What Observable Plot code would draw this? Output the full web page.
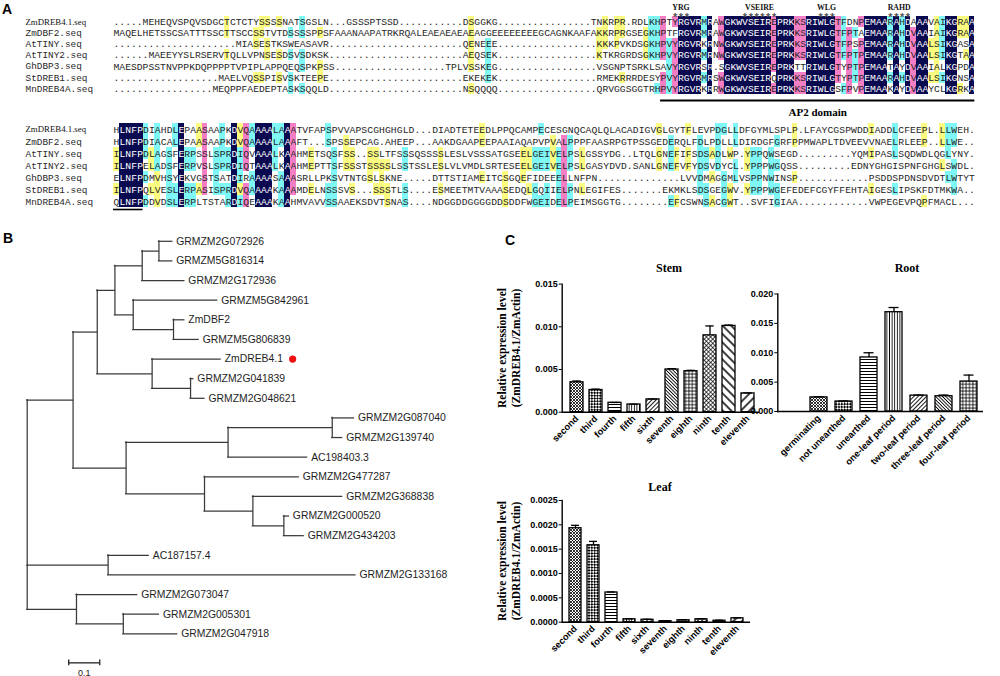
<!DOCTYPE html>
<html>
<head>
<meta charset="utf-8">
<script src="https://cdn.jsdelivr.net/npm/d3@7"></script>
<script src="https://cdn.jsdelivr.net/npm/@observablehq/plot@0.6"></script>
<style>
  html, body { margin: 0; padding: 0; background: #fff; }
  #fig { position: relative; width: 1000px; height: 676px; overflow: hidden; background: #fff; }
  .lbl { position: absolute; white-space: nowrap; color: #000; }
  .panel { font: bold 14px "Liberation Sans", Arial, sans-serif; }
  .title { font: bold 12px "Liberation Serif", "Times New Roman", serif; transform: translate(-50%, -50%); }
  .ylab { font: bold 11.5px "Liberation Serif", "Times New Roman", serif; line-height: 13.6px; text-align: center; transform: translate(-50%, -50%) rotate(-90deg); }
</style>
</head>
<body>
<svg width="0" height="0" style="position:absolute">
  <defs>
    <pattern id="pat0" patternUnits="userSpaceOnUse" width="3" height="3">
      <rect width="3" height="3" fill="#fff"/>
      <path d="M0,0L3,3M3,0L0,3" stroke="#000" stroke-width="0.8"/>
    </pattern>
    <pattern id="pat1" patternUnits="userSpaceOnUse" width="4" height="4" patternTransform="rotate(45)">
      <rect width="4" height="4" fill="#fff"/>
      <rect width="2" height="2" fill="#000"/>
      <rect x="2" y="2" width="2" height="2" fill="#000"/>
    </pattern>
    <pattern id="pat2" patternUnits="userSpaceOnUse" width="4" height="3">
      <rect width="4" height="3" fill="#fff"/>
      <path d="M0,1.5H4" stroke="#000" stroke-width="1"/>
    </pattern>
    <pattern id="pat3" patternUnits="userSpaceOnUse" width="2.6" height="4">
      <rect width="2.6" height="4" fill="#fff"/>
      <path d="M1.3,0V4" stroke="#000" stroke-width="0.9"/>
    </pattern>
    <pattern id="pat4" patternUnits="userSpaceOnUse" width="3" height="4" patternTransform="rotate(45)">
      <rect width="3" height="4" fill="#fff"/>
      <path d="M1.5,0V4" stroke="#000" stroke-width="0.9"/>
    </pattern>
    <pattern id="pat5" patternUnits="userSpaceOnUse" width="2.4" height="4" patternTransform="rotate(-45)">
      <rect width="2.4" height="4" fill="#fff"/>
      <path d="M1.2,0V4" stroke="#000" stroke-width="0.9"/>
    </pattern>
    <pattern id="pat6" patternUnits="userSpaceOnUse" width="3.4" height="3.4">
      <rect width="3.4" height="3.4" fill="#fff"/>
      <path d="M1.7,0V3.4M0,1.7H3.4" stroke="#000" stroke-width="0.8"/>
    </pattern>
    <pattern id="pat7" patternUnits="userSpaceOnUse" width="3" height="3" patternTransform="rotate(45)">
      <rect width="3" height="3" fill="#fff"/>
      <path d="M1.5,0V3M0,1.5H3" stroke="#000" stroke-width="0.7"/>
    </pattern>
    <pattern id="pat8" patternUnits="userSpaceOnUse" width="6" height="6" patternTransform="rotate(-45)">
      <rect width="6" height="6" fill="#fff"/>
      <path d="M3,0V6" stroke="#000" stroke-width="1.5"/>
    </pattern>
    <pattern id="pat9" patternUnits="userSpaceOnUse" width="6" height="6" patternTransform="rotate(45)">
      <rect width="6" height="6" fill="#fff"/>
      <path d="M3,0V6" stroke="#000" stroke-width="1.5"/>
    </pattern>
  </defs>
</svg>
<div id="fig"></div>
<script>
// ---------------- DATA ----------------
const seqNames = ["ZmDREB4.1.seq", "ZmDBF2.seq", "AtTINY.seq", "AtTINY2.seq", "GhDBP3.seq", "StDREB1.seq", "MnDREB4A.seq"];

// Alignment block 1 (three column segments)
const blk1A = [
  "....." + "MEHEQVSPQVSDGCTCTCTYSSSSNATSGSLN.",
  "MAQELHETSSCSATTTSSCTTSCCSSTVTDSSSSPPSF",
  ".........." + ".........." + "." + "MIASESTKSWEASAVR.",
  "......" + "MAEEYYSLRSERVTQLLVPNSESDSVSDKSK.",
  "MAESDPSSTNVPPKDQPPPPTVPIPLAPPQEQSPKPSS",
  ".........." + "........" + "MAELVQSSPISVSKTEEPE.",
  ".........." + "......." + "MEQPPFAEDEPTASKSQQLD."
];
const blk1B = [
  ".." + "GSSSPTSSD" + ".........." + "." + "DSGGKG" + ".........." + "......" + "TNKRPR.RDLKH",
  "AAANAAPATRKRQALEAEAEAEAEAGGEEEEEEEEGCAGNKAAFAKKRPRGSEGKH",
  ".........." + ".........." + ".." + "QENEEE" + ".........." + "......." + "KKKPVKDSGKH",
  ".........." + ".........." + ".." + "AEQSEK" + ".........." + "......." + "KTKRGRDSGKH",
  ".........." + "........." + "TPLVSSKEG" + ".........." + "......." + "VSGNPTSRKLS",
  ".........." + ".........." + ".." + "EKEKEK" + ".........." + "......." + "RMEKRRRDESY",
  ".........." + ".........." + ".." + "NSQQQQ" + ".........." + "......." + "QRVGGSGGTRH"
];
const blk1C = [
  "PTYRGVRMRAWGKWVSEIREPRKKSRIWLGTFDNPEMAARAHDAAAVAIKGRAA",
  "PTFRGVRMRAWGKWVSEIREPRKKSRIWLGTFPTAEMAARAHDVAAIAIKGRAA",
  "PVYRGVRKRNWGKWVSEIREPRKKSRIWLGTFPSPEMAARAHDVAALSIKGASA",
  "PVYRGVRMRNWGKWVSEIREPRKKSRIWLGTFPTPEMAARAHDVAALSIKGTAA",
  "AVYRGVRSR.SGKWVSEIREPRKTTRIWLGTYPTPEMAATAYDVAAIALKGPDA",
  "PVYRGVRMRSWGKWVSEIRQPRKKSRIWLGTYPTPEMAARAHDVAALSIKGNSA",
  "PVYRGVRKRRWGKWVSEIREPRKKSRIWLGSFPVPEMAAKAYDVAAYCLKGRKA"
];

// Alignment block 2
const blk2A = [
  "HLNFPDIAHDLEPAASAAPKDVQAAAALAAATVFAPSP",
  "HLNFPDIACALEPAASAAPKDVQAAAALAAAFT...SP",
  "ILNFPDLAGSFERPSSLSPRDIQVAAALKAAHMETSQS",
  "ILNFPELADSFERPVSLSPRDIQTAAALKAAHMEPTTS",
  "ELNFPDMVHSYEKVGSTSATDIRAAAASAAASRLLPKS",
  "ILNFPQLVESLERPASISPRDVQAAAAKAAAMDELNSS",
  "QLNFPDDVDSLERPLTSTARDIQEAAAKAAHMVAVVSS"
];
const blk2B = [
  "VVAPSCGHGHGLD...DIADTETEEDLPPQCAMPECESGNQCAQLQLACADIGV",
  "SSEPCAG.AHEEP...AAKDGAAPEEPAAIAQAPVPVALPPPFAASRPGTPSSG",
  "FSS..SSLTFSSSQSSSSLESLVSSSATGSEELGEIVELPSLGSSYDG..LTQL",
  "FSSSTSSSSLSSTSSLESLVLVMDLSRTESEELGEIVELPSLGASYDVD.SANL",
  "VTNTGSLSKNE.....DTTSTIAMEITCSGQEFIDEEELLNFPN" + "..........",
  "SVS...SSSTLS....ESMEETMTVAAASEDQLGQIIELPNLEGIFES" + "......",
  "AAEKSDVTSNAS....NDGGDDGGGGDDSDDFWGEIDELPEIMSGGTG" + "......"
];
const blk2C = [
  "GLGYTFLEVPDGLLDFGYMLSPLP.LFAYCGSPWDDIADDLCFEEPL.LLWEH.",
  "EDERQLFDLPDLLLDIRDGFGRFPPMWAPLTDVEEVVNAELRLEEP..LLWE..",
  "GNEFIFSDSADLWP.YPPQWSEGD" + "........." + "YQMIPASLSQDWDLQGLYNY.",
  "GNEFVFYDSVDYCL.YPPPWGQSS" + "........." + "EDNYGHGISPNFGHGLSWDL.",
  "....LVVDMAGGMLVSPPNWINSP" + "............" + "PSDDSPDNSDVDTLWTYT",
  ".EKMKLSDSGEGWV.YPPPWGEFEDEFCGYFFEHTAIGESLIPSKFDTMKWA..",
  "..EFCSWNSACGWT..SVFIGIAA" + "............" + "VWPEGEVPQPFMACL..."
];

const motifs = [
  {name: "YRG", start: 96, end: 98},
  {name: "VSEIRE", start: 108, end: 113},
  {name: "WLG", start: 121, end: 123},
  {name: "RAHD", start: 133, end: 136}
];
const ap2Domain = {name: "AP2 domain", start: 94, end: 148};
const lnfpMotif = {name: "LNFP", start: 0, end: 5};

// Phylogenetic tree: [node, parent, branch length, leaf label]
const treeEdges = [
  ["R", null, 0, null],
  ["N1", "R", 0.148, null],
  ["N2", "N1", 0.078, null],
  ["N3", "N2", 0.057, null],
  ["N4", "N3", 0.088, null],
  ["N5", "N4", 0.054, null],
  ["L0", "N5", 0.043, "GRMZM2G072926"],
  ["L1", "N5", 0.043, "GRMZM5G816314"],
  ["L2", "N4", 0.136, "GRMZM2G172936"],
  ["N6", "N3", 0.059, null],
  ["L3", "N6", 0.271, "GRMZM5G842961"],
  ["N7", "N6", 0.130, null],
  ["L4", "N7", 0.035, "ZmDBF2"],
  ["L5", "N7", 0.081, "GRMZM5G806839"],
  ["N8", "N2", 0.177, null],
  ["L6", "N8", 0.221, "ZmDREB4.1"],
  ["N9", "N8", 0.124, null],
  ["L7", "N9", 0.009, "GRMZM2G041839"],
  ["L8", "N9", 0.045, "GRMZM2G048621"],
  ["N10", "N1", 0.171, null],
  ["N11", "N10", 0.329, null],
  ["N12", "N11", 0.336, null],
  ["L9", "N12", 0.070, "GRMZM2G087040"],
  ["L10", "N12", 0.032, "GRMZM2G139740"],
  ["L11", "N11", 0.255, "AC198403.3"],
  ["N13", "N10", 0.253, null],
  ["L12", "N13", 0.304, "GRMZM2G477287"],
  ["N14", "N13", 0.156, null],
  ["L13", "N14", 0.288, "GRMZM2G368838"],
  ["N15", "N14", 0.100, null],
  ["L14", "N15", 0.016, "GRMZM2G000520"],
  ["L15", "N15", 0.064, "GRMZM2G434203"],
  ["N16", "R", 0.261, null],
  ["L16", "N16", 0.131, "AC187157.4"],
  ["L17", "N16", 0.798, "GRMZM2G133168"],
  ["N17", "R", 0.159, null],
  ["L18", "N17", 0.196, "GRMZM2G073047"],
  ["N18", "N17", 0.151, null],
  ["L19", "N18", 0.115, "GRMZM2G005301"],
  ["L20", "N18", 0.174, "GRMZM2G047918"]
];
const highlightGene = "ZmDREB4.1";
const scaleBar = {length: 0.1, label: "0.1"};

// Expression data
const stemStages = ["second", "third", "fourth", "fifth", "sixth", "seventh", "eighth", "ninth", "tenth", "eleventh"];
const stemMean = [0.0035, 0.0026, 0.0011, 0.0009, 0.0015, 0.0050, 0.0048, 0.0090, 0.0101, 0.0022];
const stemErr  = [0.00015, 0.0001, 0.00004, 0.00003, 0.00004, 0.0001, 0.0001, 0.0011, 0.0001, 0.00005];
const stemTicks = [0, 0.005, 0.010, 0.015];

const rootStages = ["germinating", "not unearthed", "unearthed", "one-leaf period", "two-leaf period", "three-leaf period", "four-leaf period"];
const rootMean = [0.0024, 0.0017, 0.0092, 0.0169, 0.0027, 0.0026, 0.0051];
const rootErr  = [0.0001, 0.0001, 0.0008, 0.0008, 0.0001, 0.0002, 0.0011];
const rootTicks = [0, 0.005, 0.010, 0.015, 0.020];

const leafStages = ["second", "third", "fourth", "fifth", "sixth", "seventh", "eighth", "ninth", "tenth", "eleventh"];
const leafMean = [0.00193, 0.00158, 0.00061, 0.00006, 0.00005, 0.00002, 0.00004, 0.00006, 0.00003, 0.00008];
const leafErr  = [0.00006, 0.00008, 0.00001, 0.00001, 0.00001, 0.00001, 0.00001, 0.00001, 0.00001, 0.00001];
const leafTicks = [0, 0.0005, 0.0010, 0.0015, 0.0020, 0.0025];

// ---------------- STYLE ----------------
const mono = '"Liberation Mono", "Courier New", monospace';
const serif = '"Liberation Serif", "Times New Roman", serif';
const sans = '"Liberation Sans", Arial, sans-serif';
const levels = ["100%", ">=75%", ">=50%", ">=33%"];
const levelColors = ["#0a0a50", "#f57fc4", "#7ff7f7", "#fcfc80"];
const barPatterns = [0, 1, 2, 3, 4, 5, 6, 7, 8, 9];

// ---------------- HELPERS ----------------
const fig = document.getElementById("fig");
function place(el, left, top) {
  el.style.position = "absolute"; el.style.left = left + "px"; el.style.top = top + "px";
  fig.appendChild(el); return el;
}
function label(html, cls, left, top) {
  const d = document.createElement("div"); d.className = "lbl " + cls; d.innerHTML = html;
  return place(d, left, top);
}
function fit(s, n) { return s.length >= n ? s.slice(0, n) : s + ".".repeat(n - s.length); }

// ---------------- ALIGNMENT ----------------
function alignment({segs, lens, cw, rh, rowTop, svgTop, svgH, extra}) {
  const rows = seqNames.map((_, i) => segs.map((seg, k) => fit(seg[i], lens[k])).join(""));
  const n = rows[0].length;
  const cells = [];
  for (let c = 0; c < n; c++) {
    const counts = new Map();
    for (const r of rows) if (r[c] !== ".") counts.set(r[c], (counts.get(r[c]) || 0) + 1);
    rows.forEach((r, i) => {
      const k = r[c] === "." ? 0 : counts.get(r[c]);
      const f = k / rows.length;
      const level = f >= 1 ? levels[0] : f >= 0.75 ? levels[1] : f >= 0.5 ? levels[2] : f >= 0.33 ? levels[3] : null;
      cells.push({col: c, row: i, ch: r[c], level});
    });
  }
  const x0 = 113, yt = rowTop - svgTop;
  const svg = Plot.plot({
    width: 1000, height: svgH, margin: 0,
    x: {domain: [0, n], range: [x0, x0 + n * cw], axis: null},
    y: {domain: [0, 7], range: [yt, yt + 7 * rh], axis: null},
    color: {domain: levels, range: levelColors},
    style: {background: "none", overflow: "visible"},
    marks: [
      Plot.rect(cells.filter(d => d.level), {x1: "col", x2: d => d.col + 1, y1: "row", y2: d => d.row + 1, fill: "level", shapeRendering: "crispEdges"}),
      Plot.text(cells.filter(d => d.level !== levels[0]), {x: d => d.col + 0.5, y: d => d.row + 0.5, text: "ch", fill: "#262626", fontFamily: mono, fontSize: 9.7}),
      Plot.text(cells.filter(d => d.level === levels[0]), {x: d => d.col + 0.5, y: d => d.row + 0.5, text: "ch", fill: "#ffffff", fontFamily: mono, fontSize: 9.7}),
      Plot.text([seqNames[0]], {frameAnchor: "left", dx: 25, y: () => 0.5, text: d => d, textAnchor: "start", fontFamily: serif, fontSize: 8.8, fill: "#111"}),
      Plot.text(seqNames.slice(1), {frameAnchor: "left", dx: 25, y: (d, i) => i + 1.5, text: d => d, textAnchor: "start", fontFamily: mono, fontSize: 9.4, fill: "#2a2a2a"}),
      ...extra
    ]
  });
  place(svg, 0, svgTop);
}

const starCols = motifs.flatMap(m => d3.range(m.start, m.end + 1));
alignment({
  segs: [blk1A, blk1B, blk1C], lens: [38, 56, 54], cw: 5.82, rh: 11.1, rowTop: 16, svgTop: 0, svgH: 122,
  extra: [
    Plot.text(motifs, {x: d => (d.start + d.end + 1) / 2, frameAnchor: "top", dy: 4.4, text: "name", fontFamily: serif, fontWeight: "bold", fontSize: 7.8, fill: "#111"}),
    Plot.text(starCols, {x: d => d + 0.5, frameAnchor: "top", dy: 12.5, text: () => "*", fontFamily: sans, fontWeight: "bold", fontSize: 11, fill: "#555"}),
    Plot.ruleY([ap2Domain], {y: () => 7, x1: "start", x2: "end", dy: 6.3, stroke: "#000", strokeWidth: 2}),
    Plot.text([ap2Domain], {x: d => (d.start + d.end) / 2, y: () => 7, dy: 18.5, text: "name", fontFamily: serif, fontWeight: "bold", fontSize: 11, fill: "#000"})
  ]
});
alignment({
  segs: [blk2A, blk2B, blk2C], lens: [38, 54, 54], cw: 5.9, rh: 12, rowTop: 123, svgTop: 115, svgH: 100,
  extra: [
    Plot.ruleY([lnfpMotif], {y: () => 7, x1: "start", x2: "end", dy: 2, stroke: "#000", strokeWidth: 1.6})
  ]
});

// ---------------- TREE ----------------
(function tree() {
  const nodes = treeEdges.map(([id, parent, len, name]) => ({id, parent, len, name}));
  const byId = new Map(nodes.map(d => [d.id, d]));
  for (const d of nodes) d.x = d.parent ? byId.get(d.parent).x + d.len : 0;
  let k = 0;
  for (const d of nodes) if (d.name) d.y = k++;
  for (let i = nodes.length - 1; i >= 0; i--) {
    const d = nodes[i];
    if (d.name) continue;
    const ys = nodes.filter(c => c.parent === d.id).map(c => c.y);
    d.y1 = d3.min(ys); d.y2 = d3.max(ys); d.y = (ys[0] + ys[ys.length - 1]) / 2;
  }
  const leaves = nodes.filter(d => d.name);
  const branches = nodes.filter(d => d.parent);
  const internal = nodes.filter(d => !d.name);
  const lineStyle = {stroke: "#3a3a3a", strokeWidth: 1.25, strokeLinecap: "square"};
  const sbX = 0.134;
  const svg = Plot.plot({
    width: 480, height: 451, margin: 0,
    x: {domain: [0, 1.5], range: [26.7, 26.7 + 1.5 * 310], axis: null},
    y: {domain: [0, 20], range: [15.8, 408.3], axis: null},
    style: {background: "none", overflow: "visible"},
    marks: [
      Plot.ruleY(branches, {y: "y", x1: d => byId.get(d.parent).x, x2: "x", ...lineStyle}),
      Plot.ruleX(internal, {x: "x", y1: "y1", y2: "y2", ...lineStyle}),
      Plot.text(leaves, {x: "x", y: "y", text: "name", dx: 4, textAnchor: "start", fontFamily: sans, fontSize: 10.4, fill: "#1e1e1e"}),
      Plot.dot(leaves.filter(d => d.name === highlightGene), {x: "x", y: "y", dx: 72, r: 3.6, fill: "#ee1111", stroke: "none"}),
      Plot.ruleY([scaleBar], {x1: () => sbX, x2: d => sbX + d.length, y: () => 21.48, stroke: "#222", strokeWidth: 1.3}),
      Plot.ruleX([0, scaleBar.length], {x: d => sbX + d, y1: () => 21.33, y2: () => 21.63, stroke: "#222", strokeWidth: 1.3}),
      Plot.text([scaleBar], {x: d => sbX + d.length / 2, y: () => 22.0, text: "label", fontFamily: sans, fontSize: 9, fill: "#222"})
    ]
  });
  place(svg, 0, 225);
})();

// ---------------- BAR CHARTS ----------------
function barChart(o) {
  const data = o.stages.map((s, i) => ({stage: s, mean: o.mean[i], err: o.err[i]}));
  const svg = Plot.plot({
    width: o.width, height: o.height,
    marginLeft: o.frameLeft - o.left, marginRight: o.left + o.width - o.frameRight,
    marginTop: o.yTop - o.top, marginBottom: o.top + o.height - o.y0,
    x: {type: "band", domain: o.stages, range: [o.r0 - o.left, o.r1 - o.left], paddingInner: o.pi, paddingOuter: o.po},
    y: {domain: [0, o.yMax]},
    style: {background: "none", overflow: "visible", fontFamily: sans, color: "#000"},
    marks: [
      Plot.barY(data, {x: "stage", y: "mean", fill: "white", stroke: "#000", strokeWidth: 1.3}),
      Plot.ruleX(data, {x: "stage", y1: "mean", y2: d => d.mean + d.err, stroke: "#000", strokeWidth: 1.3}),
      Plot.tickY(data, {x: "stage", y: d => d.mean + d.err, stroke: "#000", strokeWidth: 1.3, inset: o.capInset}),
      Plot.ruleY([0], {stroke: "#000", strokeWidth: 1.4}),
      Plot.frame({anchor: "left", stroke: "#000", strokeWidth: 1.4}),
      Plot.axisY({ticks: o.ticks, tickFormat: d3.format(o.fmt), tickSize: 3, tickPadding: 1.5, fontSize: 9, fontWeight: "bold", label: null}),
      Plot.axisX({tickRotate: -45, tickSize: 0, tickPadding: 5, fontSize: 9.3, fontWeight: "bold", label: null})
    ]
  });
  d3.select(svg).selectAll('g[aria-label="bar"] rect').attr("fill", (_, i) => `url(#pat${barPatterns[i]})`);
  place(svg, o.left, o.top);
}

barChart({stages: stemStages, mean: stemMean, err: stemErr, ticks: stemTicks, fmt: ".3f", yMax: 0.015,
  left: 490, top: 250, width: 270, height: 220, frameLeft: 561.7, frameRight: 759, yTop: 283.6, y0: 411.7,
  r0: 565.1, r1: 759.1, pi: 0.3, po: 0.15, capInset: 2.3});
barChart({stages: rootStages, mean: rootMean, err: rootErr, ticks: rootTicks, fmt: ".3f", yMax: 0.020,
  left: 740, top: 250, width: 260, height: 220, frameLeft: 777.3, frameRight: 983, yTop: 293.5, y0: 411,
  r0: 805.2, r1: 981.5, pi: 0.33, po: 0.15, capInset: 3.5});
barChart({stages: leafStages, mean: leafMean, err: leafErr, ticks: leafTicks, fmt: ".4f", yMax: 0.0025,
  left: 490, top: 470, width: 270, height: 206, frameLeft: 561.7, frameRight: 750, yTop: 500, y0: 621.7,
  r0: 564.95, r1: 747.4, pi: 0.33, po: 0.15, capInset: 2});

// ---------------- TEXT LABELS ----------------
label("A", "panel", 2, 1);
label("B", "panel", 3, 230);
label("C", "panel", 505, 232);
label("Stem", "title", 669, 268);
label("Root", "title", 907, 268);
label("Leaf", "title", 660, 487);
label("Relative expression level<br>(ZmDREB4.1/ZmActin)", "ylab", 510, 348);
label("Relative expression level<br>(ZmDREB4.1/ZmActin)", "ylab", 510, 561);
</script>
</body>
</html>
